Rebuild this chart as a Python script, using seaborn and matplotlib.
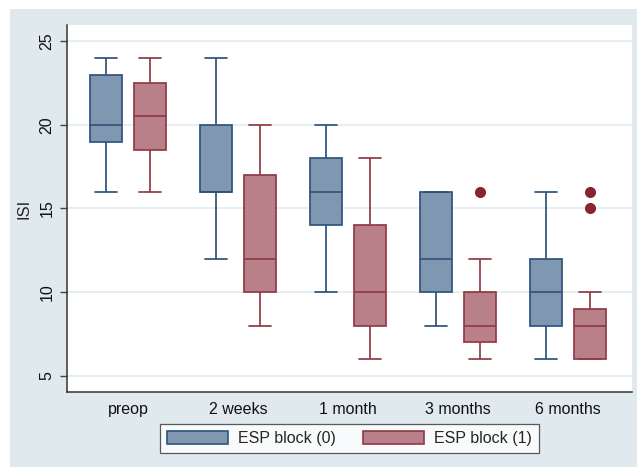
import matplotlib
matplotlib.use("Agg")
import matplotlib.pyplot as plt
from matplotlib.patches import Rectangle, Patch
import seaborn as sns
import pandas as pd

times = ["preop", "2 weeks", "1 month", "3 months", "6 months"]
groups = ["ESP block (0)", "ESP block (1)"]

# box summaries: lower whisker, q1, median, q3, upper whisker
esp0_lo = [16, 12, 10, 8, 6]
esp0_q1 = [19, 16, 14, 10, 8]
esp0_med = [20, 16, 16, 12, 10]
esp0_q3 = [23, 20, 18, 16, 12]
esp0_hi = [24, 24, 20, 16, 16]
esp0_out = [[], [], [], [], []]

esp1_lo = [16, 8, 6, 6, 6]
esp1_q1 = [18.5, 10, 8, 7, 6]
esp1_med = [20.5, 12, 10, 8, 8]
esp1_q3 = [22.5, 17, 14, 10, 9]
esp1_hi = [24, 20, 18, 12, 10]
esp1_out = [[], [], [], [16], [15, 16]]

fill_colors = ["#7f97b1", "#b98089"]
edge_colors = ["#2f5379", "#8f3a45"]
dot_color = "#8b2332"
panel_color = "#dfe9ee"
grid_color = "#e4edf1"


def expand(lo, q1, med, q3, hi, out):
    # sample whose quartiles / whiskers reproduce the summary exactly
    k = len(out)
    return [lo] * (1 + k) + [q1] * 5 + [med] + [q3] * 5 + [hi] + list(out)


rows = []
summaries = [
    (esp0_lo, esp0_q1, esp0_med, esp0_q3, esp0_hi, esp0_out),
    (esp1_lo, esp1_q1, esp1_med, esp1_q3, esp1_hi, esp1_out),
]
for g, (lo, q1, med, q3, hi, out) in zip(groups, summaries):
    for i, t in enumerate(times):
        for v in expand(lo[i], q1[i], med[i], q3[i], hi[i], out[i]):
            rows.append({"time": t, "group": g, "ISI": v})
df = pd.DataFrame(rows)

sns.set_theme(style="white")
plt.rcParams["font.family"] = ["Liberation Sans", "DejaVu Sans"]

fig = plt.figure(figsize=(6.38, 4.68), dpi=100)
fig.patches.append(Rectangle((10 / 638, 1 / 468), 627 / 638, 458 / 468,
                             transform=fig.transFigure, facecolor=panel_color,
                             edgecolor="none", zorder=-1))
ax = fig.add_axes([67 / 638, 1 - 392 / 468, 565 / 638, 367 / 468])
ax.set_facecolor("white")

sns.boxplot(data=df, x="time", y="ISI", hue="group", order=times,
            hue_order=groups, palette=fill_colors, width=0.8, gap=0.27,
            linewidth=1.25, saturation=1, legend=False, ax=ax,
            flierprops=dict(marker="o", markersize=8, markeredgecolor="none"))

for cont, ec in zip(ax.containers, edge_colors):
    for b in cont.boxes:
        b.set_edgecolor(ec)
    for ln in list(cont.medians) + list(cont.whiskers):
        ln.set_color(ec)
    for ln in cont.caps:
        ln.set_color(ec)
        xs = ln.get_xdata()
        c = (xs[0] + xs[1]) / 2
        ln.set_xdata([c - 0.1, c + 0.1])
    for f in cont.fliers:
        f.set_markerfacecolor(dot_color)
        f.set_markeredgecolor("none")

ax.set_ylim(4.04, 25.96)
ax.set_xlim(-0.555, 4.58)
ax.set_yticks([5, 10, 15, 20, 25])
ax.yaxis.grid(True, color=grid_color, linewidth=1.3)
ax.set_axisbelow(True)
ax.set_xlabel("")
ax.set_ylabel("ISI", fontsize=12, labelpad=6)
ax.tick_params(axis="x", length=0, pad=7, labelsize=11.5, colors="#111111")
ax.tick_params(axis="y", length=5, width=1, color="#444444", pad=4,
               labelsize=11.5, labelcolor="#111111", left=True)
plt.setp(ax.get_yticklabels(), rotation=90, va="center")

for s in ["top", "right"]:
    ax.spines[s].set_visible(False)
for s in ["left", "bottom"]:
    ax.spines[s].set_color("#333333")
    ax.spines[s].set_linewidth(1.1)

handles = [Patch(facecolor=fc, edgecolor=ec, linewidth=1.2)
           for fc, ec in zip(fill_colors, edge_colors)]
leg = fig.legend(handles, groups, loc="upper center",
                 bbox_to_anchor=(349.5 / 638, 1 - 424 / 468),
                 ncol=2, fontsize=11.5, frameon=True, fancybox=False,
                 borderpad=0.42, handlelength=3.8, handleheight=0.95,
                 handletextpad=0.62, columnspacing=1.75, borderaxespad=0)
leg.get_frame().set_edgecolor("#333333")
leg.get_frame().set_linewidth(0.9)
leg.get_frame().set_facecolor("white")

fig.savefig("out.png", dpi=100, facecolor="white")
